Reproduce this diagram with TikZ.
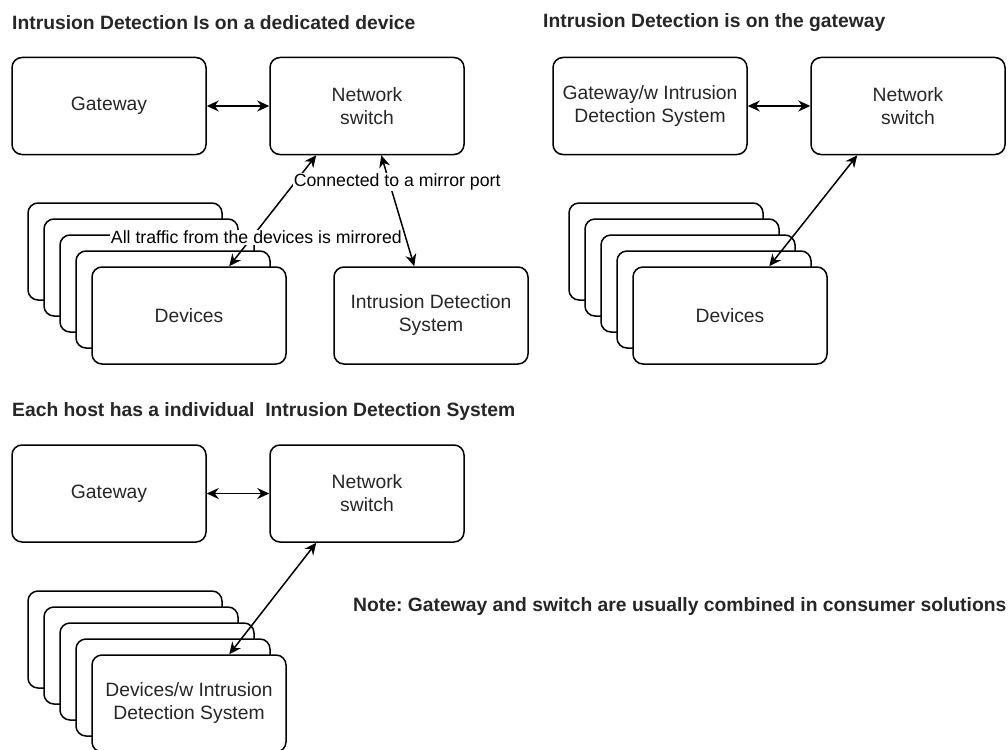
\documentclass[tikz,border=0pt]{standalone}
\usepackage{fontspec}
\setmainfont{Liberation Sans}
\usetikzlibrary{arrows.meta}
\frenchspacing

\tikzset{
  unit/.style={draw, rounded corners=10pt, line width=1.5pt, fill=white,
    minimum width=194pt, minimum height=97pt, align=center,
    font=\fontsize{19.3}{23}\selectfont, text=black!85},
  link/.style={{Stealth[length=12pt,width=11pt]}-{Stealth[length=12pt,width=11pt]},
    line width=1.5pt},
  lbl/.style={fill=white, inner sep=1pt, font=\fontsize{17.7}{21}\selectfont},
  heading/.style={anchor=west, inner sep=0pt, font=\bfseries\fontsize{19.3}{23}\selectfont,
    text=black!85},
}

\begin{document}
\begin{tikzpicture}[x=1pt,y=-1pt]
  \useasboundingbox (0,0) rectangle (1008,749);

  % dedicated device
  \node[heading] (title1) at (12,23) {Intrusion Detection Is on a dedicated device};
  \node[unit] (gw1) at (109,106) {Gateway};
  \node[unit] (sw1) at (367,106) {Network\\switch};
  \foreach \k in {4,3,2,1}
    \node[unit] (dev1-\k) at ({189-16*\k},{315.5-16*\k}) {};
  \node[unit] (dev1) at (189,315.5) {Devices};
  \node[unit] (ids1) at (431,315.5) {Intrusion Detection\\System};
  \draw[link] (gw1) -- (sw1);
  \draw[link] ([xshift=47pt]sw1.south west) --
    node[lbl,pos=0.74,xshift=4.5pt] {All traffic from the devices is mirrored}
    ([xshift=138pt]dev1.north west);
  \draw[link] ([xshift=112pt]sw1.south west) --
    node[lbl,pos=0.24,xshift=8pt] {Connected to a mirror port}
    ([xshift=81pt]ids1.north west);

  % on the gateway
  \node[heading] (title2) at (543,23) {Intrusion Detection is on the gateway};
  \node[unit] (gw2) at (650,106) {Gateway/w Intrusion\\Detection System};
  \node[unit] (sw2) at (908,106) {Network\\switch};
  \foreach \k in {4,3,2,1}
    \node[unit] (dev2-\k) at ({730-16*\k},{315.5-16*\k}) {};
  \node[unit] (dev2) at (730,315.5) {Devices};
  \draw[link] (gw2) -- (sw2);
  \draw[link] ([xshift=47pt]sw2.south west) -- ([xshift=137pt]dev2.north west);

  % on every host
  \node[heading] (title3) at (12,412) {Each host has a individual\ \ Intrusion Detection System};
  \node[unit] (gw3) at (109,493.5) {Gateway};
  \node[unit] (sw3) at (367,493.5) {Network\\switch};
  \foreach \k in {4,3,2,1}
    \node[unit] (dev3-\k) at ({189-16*\k},{703.5-16*\k}) {};
  \node[unit] (dev3) at (189,703.5) {Devices/w Intrusion\\Detection System};
  \draw[link] (gw3) -- (sw3);
  \draw[link] ([xshift=47pt]sw3.south west) -- ([xshift=138pt]dev3.north west);

  \node[heading] (note) at (353,607) {Note: Gateway and switch are usually combined in consumer solutions};
\end{tikzpicture}
\end{document}
